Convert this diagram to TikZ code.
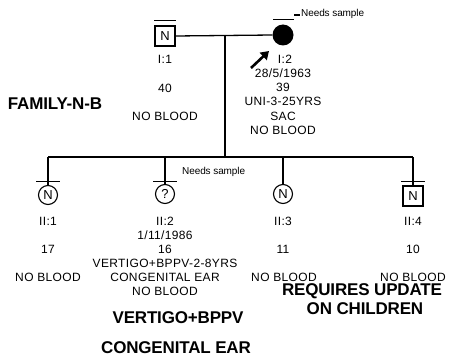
\documentclass[tikz,border=0pt]{standalone}
\usepackage{fontspec}
\setmainfont{Liberation Sans}
\newfontfamily\spaced[LetterSpace=3]{Liberation Sans}
\newfontfamily\tight[LetterSpace=-1]{Liberation Sans}
\usetikzlibrary{arrows.meta}
\tikzset{
  txt/.style={inner sep=0pt, anchor=base, font=\spaced\fontsize{12}{14}\selectfont},
  bigtxt/.style={inner sep=0pt, anchor=base, font=\tight\bfseries\fontsize{17}{19}\selectfont},
  note/.style={inner sep=0pt, anchor=base west, font=\tight\fontsize{10}{12}\selectfont},
  male/.style={draw, line width=1.1pt, minimum size=20pt, inner sep=0pt, font=\fontsize{13}{15}\selectfont},
  female/.style={draw, circle, line width=1.1pt, minimum size=19pt, inner sep=0pt, font=\fontsize{13}{15}\selectfont},
  affected/.style={circle, fill=black, minimum size=21pt, inner sep=0pt},
  ln/.style={line width=1.3pt},
}
\begin{document}
\begin{tikzpicture}[x=1pt,y=-1pt]
\useasboundingbox (0,0) rectangle (453,361);
% generation I
\node[male] (i1) at (165,36) {N};
\node[affected] (i2) at (283,35) {};
\draw[ln] (i1.east) -- (i2.west);
\coordinate (mid) at (225,35.5);
\coordinate (sib) at (225,157);
\draw[ln] (mid) -- (sib);
% overbars
\draw[line width=1pt] (154,21) -- (176,21);
\draw[line width=1pt] (273,20) -- (294,20);
\draw[line width=1.5pt] (294,15) -- (300,15);
\node[note] (ns1) at (301,17) {Needs sample};
% proband arrow
\coordinate (arrS) at (251,68);
\coordinate (arrE) at (269,51);
\draw[line width=2.6pt, -{Triangle[length=8pt,width=10pt]}] (arrS) -- (arrE);
% text I:1
\node[txt] (t11) at (165,64) {I:1};
\node[txt] (t12) at (165,93) {40};
\node[txt] (t13) at (165,121) {NO BLOOD};
% text I:2
\node[txt] (t21) at (285,64) {I:2};
\node[txt] (t22) at (283,78) {28/5/1963};
\node[txt] (t23) at (283,92) {39};
\node[txt] (t24) at (283,106) {UNI-3-25YRS};
\node[txt] (t25) at (283,121) {SAC};
\node[txt] (t26) at (283,135) {NO BLOOD};
\node[bigtxt] (fam) at (55,110) {FAMILY-N-B};
% generation II
\coordinate (sL) at (48,157);
\coordinate (sR) at (413,157);
\draw[ln] (sL) -- (sR);
\node[female] (c1) at (48,195) {N};
\node[female] (c2) at (165,194) {?};
\node[female] (c3) at (283,194) {N};
\node[male] (c4) at (413,196) {N};
\coordinate (d2) at (165,157);
\coordinate (d3) at (283,157);
\draw[ln] (sL) -- (c1.north);
\draw[ln] (d2) -- (c2.north);
\draw[ln] (d3) -- (c3.north);
\draw[ln] (sR) -- (c4.north);
\draw[line width=1pt] (36,181) -- (60,181);
\draw[line width=1pt] (153,181) -- (177,181);
\draw[line width=1pt] (401,181) -- (425,181);
\node[note] (ns2) at (182,175) {Needs sample};
% text II
\node[txt] at (48,225) {II:1};
\node[txt] at (48,253) {17};
\node[txt] at (48,281) {NO BLOOD};
\node[txt] at (165,225) {II:2};
\node[txt] at (165,239) {1/11/1986};
\node[txt] at (165,253) {16};
\node[txt] at (165,267) {VERTIGO+BPPV-2-8YRS};
\node[txt] at (165,281) {CONGENITAL EAR};
\node[txt] at (165,295) {NO BLOOD};
\node[txt] at (283,225) {II:3};
\node[txt] at (283,253) {11};
\node[txt] at (284,281) {NO BLOOD};
\node[txt] at (413,225) {II:4};
\node[txt] at (413,253) {10};
\node[txt] at (413,281) {NO BLOOD};
\node[bigtxt] at (178,323) {VERTIGO+BPPV};
\node[bigtxt] at (176,353) {CONGENITAL EAR};
\node[bigtxt] at (362,295) {REQUIRES UPDATE};
\node[bigtxt] at (365,314) {ON CHILDREN};
\end{tikzpicture}
\end{document}
